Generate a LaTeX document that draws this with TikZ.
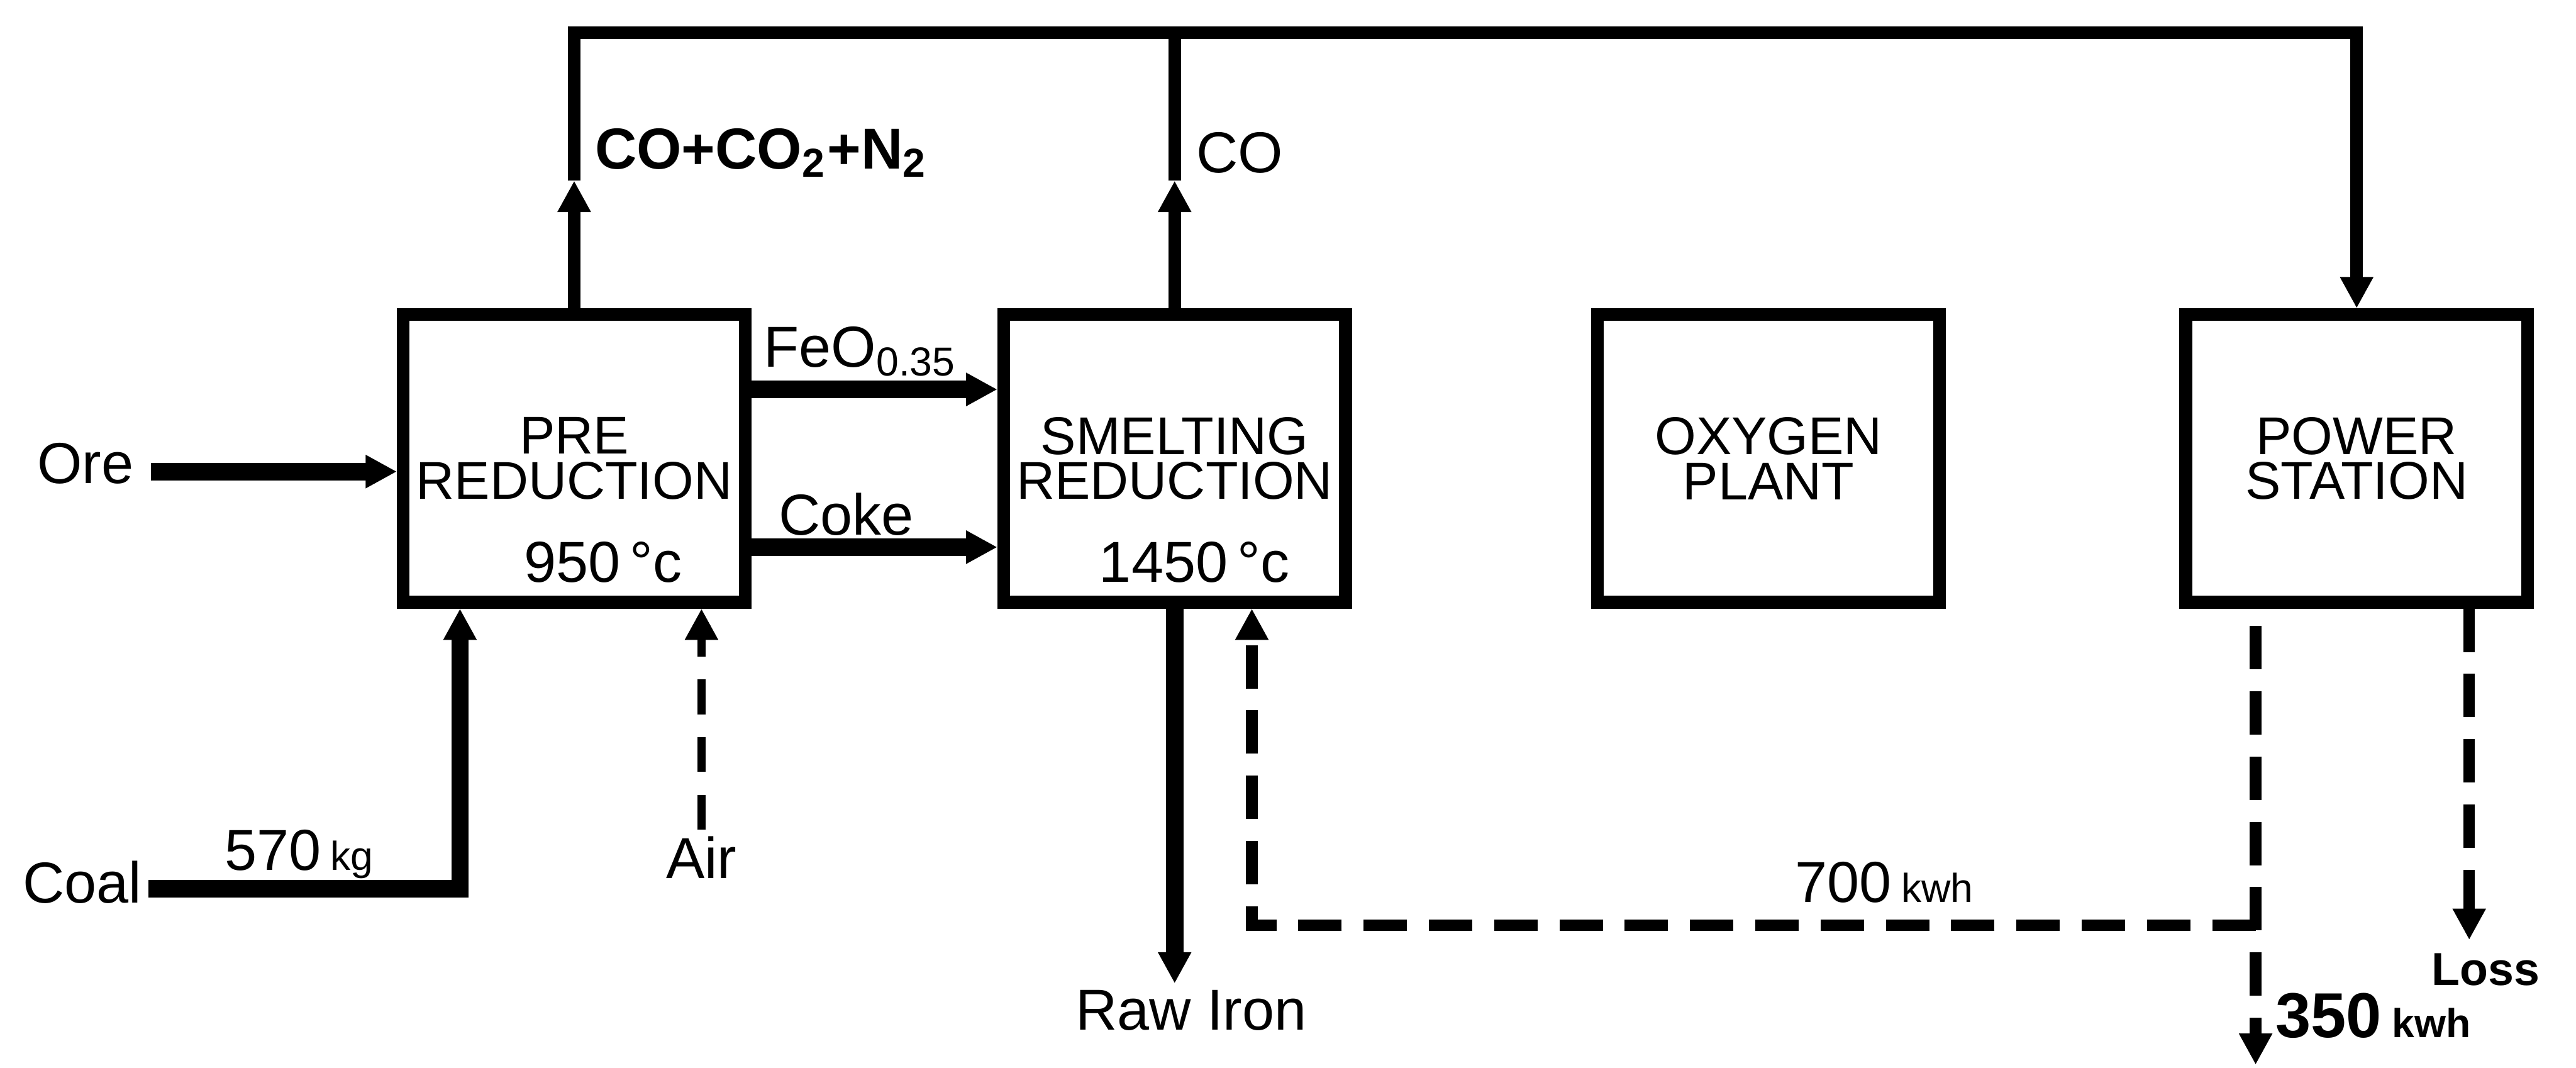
\documentclass[tikz,border=0pt]{standalone}
\usepackage{fontspec}
\setmainfont{Liberation Sans}
\usetikzlibrary{arrows.meta,calc,positioning}
\tikzset{
	unit/.style={draw, line width=2.2pt, minimum width=2.08cm, minimum height=1.75cm, align=center, inner sep=0pt, font=\fontsize{9.2}{7.8}\selectfont},
	lbl/.style={inner sep=1pt},
	gaslbl/.style={inner sep=1pt, font=\bfseries\fontsize{10}{11}\selectfont},
	flow/.style={line width=3pt},
	gas/.style={line width=2.2pt},
	airline/.style={line width=1.5pt, dash pattern=on 6pt off 4pt},
	power/.style={line width=2pt, dash pattern=on 7.5pt off 3.8pt},
}
\begin{document}
\begin{tikzpicture}[x=0.01cm, y=-0.01cm, >={Triangle[length=0.19cm,width=0.19cm]}, font=\fontsize{10}{11}\selectfont, line join=miter]
	\useasboundingbox (0,0) rectangle (1568,650);
	\def\unitsmall{\fontsize{7}{8}\selectfont}
	\node[unit] (pre) at (349.5,279) {PRE\\REDUCTION};
	\node[unit] (smelt) at (715,279) {SMELTING\\REDUCTION};
	\node[unit] (oxy) at (1076.5,279) {OXYGEN\\PLANT};
	\node[unit] (pow) at (1434.5,279) {POWER\\STATION};
	\node[lbl] (tpre) at (367,342) {950\,°c};
	\node[lbl] (tsmelt) at (727,342) {1450\,°c};
	\coordinate (topy) at (0,20);
	\coordinate (midy) at (0,110);
	\draw[gas,->] (pre.north) -- (pre.north |- midy);
	\draw[gas,->] (pre.north |- midy) -- (pre.north |- topy) -- (pow.north |- topy) -- (pow.north);
	\draw[gas,->] (smelt.north) -- (smelt.north |- midy);
	\draw[gas] (smelt.north |- midy) -- (smelt.north |- topy);
	\node[gaslbl, anchor=west] (offa) at (358,93) {CO+CO\textsubscript{2}+N\textsubscript{2}};
	\node[gaslbl, anchor=west, font=\fontsize{10}{11}\selectfont] (offb) at (724,93) {CO};
	\node[lbl] (ore) at (52,282) {Ore};
	\coordinate (orein) at (92,287);
	\draw[flow,->] (orein) -- (orein -| pre.west);
	\node[lbl] (coal) at (50,537) {Coal};
	\coordinate (coalk) at (280,541);
	\draw[flow,->] (coal.east |- coalk) -- (coalk) -- (coalk |- pre.south);
	\node[lbl] (coalq) at (182,520) {570\,{\unitsmall kg}};
	\node[lbl] (air) at (427,522) {Air};
	\draw[airline,->] (air.north) -- (air.north |- pre.south);
	\coordinate (feo) at (0,237);
	\coordinate (coke) at (0,333);
	\draw[flow,->] (pre.east |- feo) -- (smelt.west |- feo);
	\draw[flow,->] (pre.east |- coke) -- (smelt.west |- coke);
	\node[lbl] (feolbl) at (524,214) {FeO\textsubscript{0.35}};
	\node[lbl] (cokelbl) at (515,313) {Coke};
	\node[lbl] (iron) at (725,615) {Raw Iron};
	\draw[flow,->] (smelt.south) -- (smelt.south |- iron.north);
	\coordinate (pl) at (1373,648);
	\coordinate (pe) at (1373,563);
	\coordinate (sr) at (762,563);
	\coordinate (ls) at (1503,572);
	\draw[power,->,shorten <=3pt] (pow.south -| pl) -- (pl);
	\draw[power,->] (pe) -- (sr) -- (sr |- smelt.south);
	\draw[power,->] (pow.south -| ls) -- (ls);
	\node[lbl] (kwha) at (1147,537) {700\,{\unitsmall kwh}};
	\node[lbl, anchor=west, font=\bfseries\fontsize{11}{12}\selectfont] (kwhb) at (1381,618) {350\,{\unitsmall kwh}};
	\node[lbl, font=\bfseries\fontsize{8}{9}\selectfont] (loss) at (1513,590) {Loss};
\end{tikzpicture}
\end{document}
